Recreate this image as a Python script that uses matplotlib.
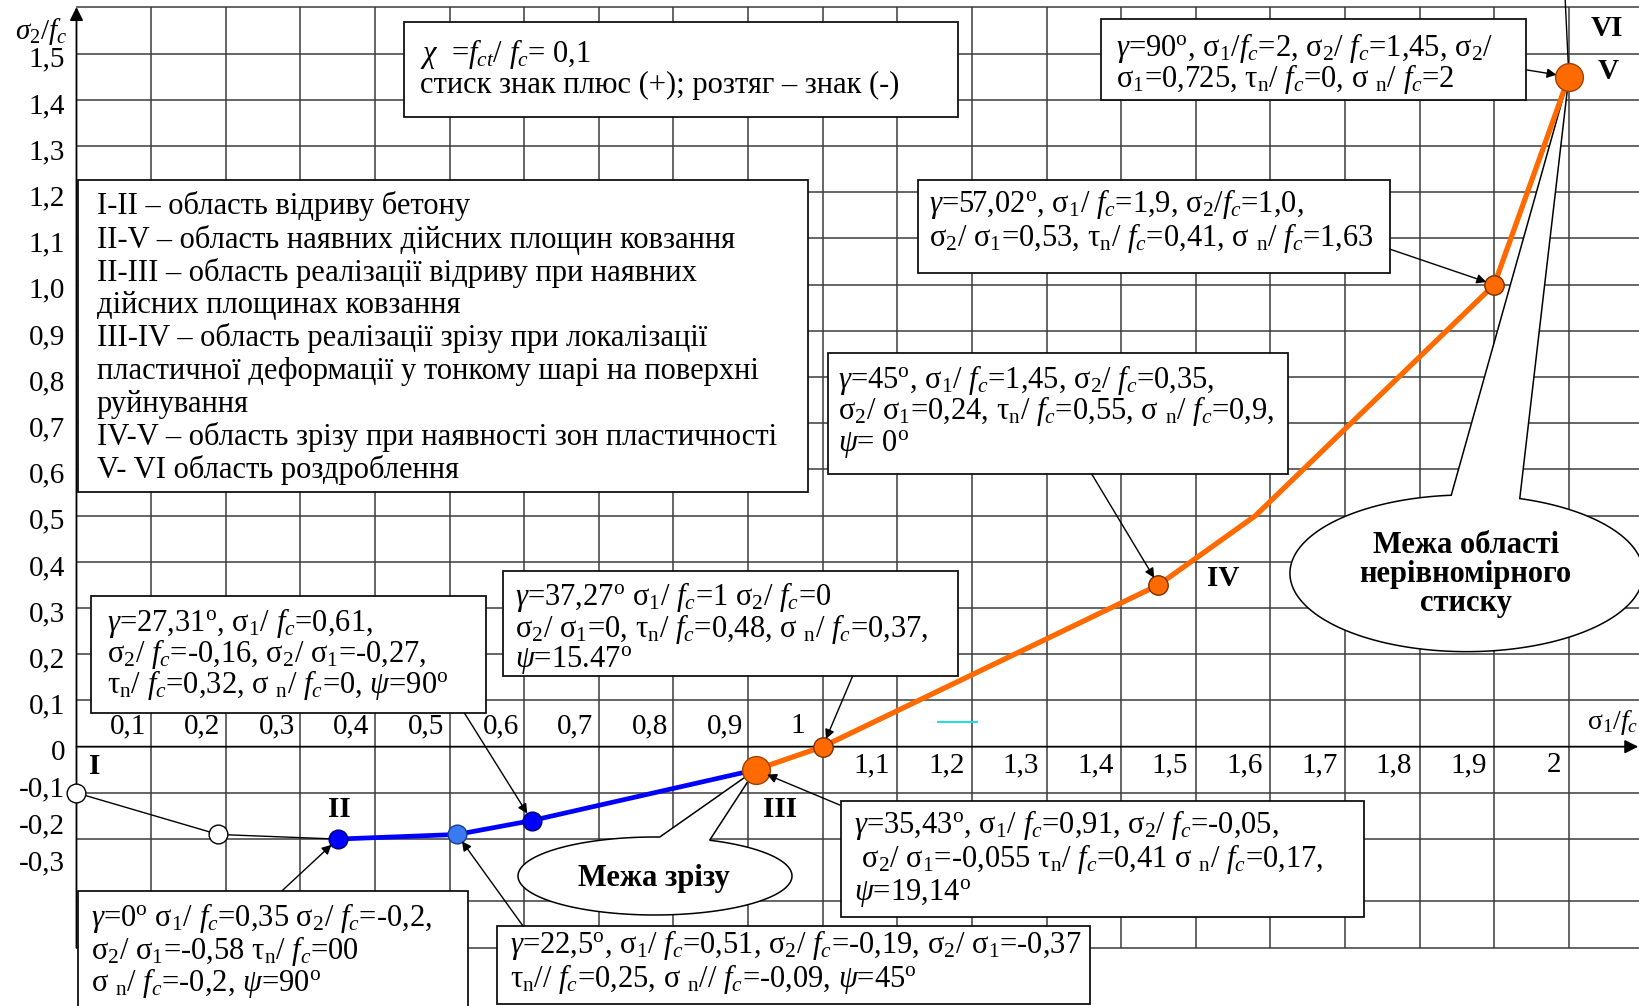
import numpy as np
import matplotlib
matplotlib.use("Agg")
import matplotlib.pyplot as plt
from matplotlib.patches import Rectangle, Polygon

plt.rcParams['font.family'] = ['Liberation Serif', 'DejaVu Serif']
plt.rcParams['mathtext.fontset'] = 'custom'
plt.rcParams['mathtext.rm'] = 'Liberation Serif'
plt.rcParams['mathtext.it'] = 'Liberation Serif:italic'
plt.rcParams['mathtext.bf'] = 'Liberation Serif:bold'

# ---- data: sigma1/fc and sigma2/fc along the failure envelope ----
tension_s1 = [0.0, 0.19, 0.35]          # I -> II (tension cut-off)
tension_s2 = [-0.10, -0.19, -0.20]
shear_s1 = [0.35, 0.51, 0.61, 0.91]     # II -> III
shear_s2 = [-0.20, -0.19, -0.16, -0.05]
compr_s1 = [0.91, 1.00, 1.45, 1.58, 1.90, 2.00]   # III -> V
compr_s2 = [-0.05, 0.00, 0.35, 0.50, 1.00, 1.45]

y_tick_values = [1.5, 1.4, 1.3, 1.2, 1.1, 1.0, 0.9, 0.8, 0.7, 0.6, 0.5, 0.4,
                 0.3, 0.2, 0.1, 0.0, -0.1, -0.2, -0.3]
x_ticks_upper = [0.1, 0.2, 0.3, 0.4, 0.5, 0.6, 0.7, 0.8, 0.9, 1.0]
x_ticks_lower = [1.1, 1.2, 1.3, 1.4, 1.5, 1.6, 1.7, 1.8, 1.9, 2.0]

roman = ["I", "II", "III", "IV", "V", "VI"]

legend_lines = [
    "I-II – область відриву бетону",
    "II-V – область наявних дійсних площин ковзання",
    "II-III – область реалізації відриву при наявних",
    "дійсних площинах ковзання",
    "III-IV – область реалізації зрізу при локалізації",
    "пластичної деформації у тонкому шарі на поверхні",
    "руйнування",
    "IV-V – область зрізу при наявності зон пластичності",
    "V- VI область роздроблення",
]

# ---- text fragments ----
G = r"$\gamma$"
PSI = r"$\psi$"
F = r"$f_c$"
S1 = r"$_1$"
S2 = r"$_2$"
SN = r"$_\mathrm{n}$"
DEG = r"$^\mathrm{o}$"

def fmt(v):
    s = f"{v:.1f}".replace(".", ",")
    return "0" if s in ("0,0", "-0,0") else s

# ---- figure with pixel-aligned data frame ----
fig = plt.figure(figsize=(16.39, 10.06), dpi=100)
ax = fig.add_axes([0, 0, 1, 1])
ax.set_xlim(-0.1025, 2.094)
ax.set_ylim(-0.5613, 1.6162)
ax.set_axis_off()

GRID_C = "#3c3c3c"
TXT = 22
TICK = 21

# grid
grid_y = [1.6, 1.5, 1.4, 1.3, 1.2, 1.1, 1.0, 0.9, 0.8, 0.7, 0.6, 0.5, 0.4,
          0.3, 0.2, 0.1, -0.1, -0.2, -0.335, -0.435]
ax.hlines(grid_y, 0, 2.094, color=GRID_C, lw=1.1, zorder=1)
ax.vlines(x_ticks_upper + x_ticks_lower, -0.435, 1.6, color=GRID_C, lw=1.1, zorder=1)

# axes with arrows
ax.annotate("", xy=(0, 1.601), xytext=(0, -0.435),
            arrowprops=dict(arrowstyle="-|>", color="black", lw=1.3,
                            mutation_scale=20, shrinkA=0, shrinkB=0), zorder=2)
ax.annotate("", xy=(2.093, 0), xytext=(0, 0),
            arrowprops=dict(arrowstyle="-|>", color="black", lw=1.3,
                            mutation_scale=20, shrinkA=0, shrinkB=0), zorder=2)

# tick labels
for v in y_tick_values:
    pos = v - 0.013 if v >= 0 else 0.8 * v - 0.013
    ax.text(-0.0154, pos, fmt(v), ha="right", va="center", fontsize=TICK, zorder=4)
for v in x_ticks_upper:
    lab = "1" if v == 1.0 else fmt(v)
    off = 0.023 if v == 1.0 else 0.007
    ax.text(v - off, 0.044, lab, ha="right", va="center", fontsize=TICK, zorder=4)
for v in x_ticks_lower:
    lab = "2" if v == 2.0 else fmt(v)
    ax.text(v - 0.01, -0.04, lab, ha="right", va="center", fontsize=TICK, zorder=4)

ax.text(-0.0476, 1.5476, r"$\sigma_2/f_c$", ha="center", va="center", fontsize=21, zorder=4)
ax.text(2.024, 0.0513, "σ" + S1 + "/" + F, ha="left", va="center", fontsize=20, zorder=4)

# small cyan stroke
ax.plot([1.1545, 1.2063], [0.0533, 0.0533], color="#19e0e6", lw=1.4, zorder=2)


def text_box(x0, x1, ytop, ybot, tx, lines, ys, size=TXT):
    ax.add_patch(Rectangle((x0, ybot), x1 - x0, ytop - ybot, fc="white",
                           ec="#111111", lw=1.3, zorder=3))
    for line, y in zip(lines, ys):
        ax.text(tx, y, line, ha="left", va="center", fontsize=size, zorder=4)


def py(p):
    return (746.7 - p) / 462.0


# information box
text_box(0.4386, 1.181, 1.569, 1.363, 0.4604,
         [r"$\chi$  =$f_{ct}$/ " + F + "= 0,1",
          "стиск знак плюс (+); розтяг – знак (-)"],
         [py(54), py(85.4)])

# legend of regions
text_box(0.0025, 0.9803, 1.2266, 0.552, 0.0272, legend_lines,
         [py(p) for p in (206.3, 239.7, 272.9, 305.4, 337.8, 371.3, 404.2, 436.8, 470.2)])

# point descriptions
text_box(0.0197, 0.5485, 0.3262, 0.0725, 0.0409,
         [G + "=27,31" + DEG + ", σ" + S1 + "/ " + F + "=0,61,",
          "σ" + S2 + "/ " + F + "=-0,16, σ" + S2 + "/ σ" + S1 + "=-0,27,",
          "τ" + SN + "/ " + F + "=0,32, σ " + SN + "/ " + F + "=0, " + PSI + "=90" + DEG],
         [py(623), py(654), py(685)])

text_box(0.5716, 1.182, 0.3803, 0.1522, 0.5877,
         [G + "=37,27" + DEG + " σ" + S1 + "/ " + F + "=1 σ" + S2 + "/ " + F + "=0",
          "σ" + S2 + "/ σ" + S1 + "=0, τ" + SN + "/ " + F + "=0,48, σ " + SN + "/ " + F + "=0,37,",
          PSI + "=15.47" + DEG],
         [py(597), py(628.6), py(660.3)])

text_box(1.0075, 1.6236, 0.8515, 0.5903, 1.0205,
         [G + "=45" + DEG + ", σ" + S1 + "/ " + F + "=1,45, σ" + S2 + "/ " + F + "=0,35,",
          "σ" + S2 + "/ σ" + S1 + "=0,24, τ" + SN + "/ " + F + "=0,55, σ " + SN + "/ " + F + "=0,9,",
          PSI + "= 0" + DEG],
         [py(380), py(411.3), py(444.1)])

text_box(1.1275, 1.7602, 1.2266, 1.0262, 1.1425,
         [G + "=57,02" + DEG + ", σ" + S1 + "/ " + F + "=1,9, σ" + S2 + "/" + F + "=1,0,",
          "σ" + S2 + "/ σ" + S1 + "=0,53, τ" + SN + "/ " + F + "=0,41, σ " + SN + "/ " + F + "=1,63"],
         [py(204), py(238.3)])

text_box(1.3726, 1.943, 1.5751, 1.3998, 1.3927,
         [G + "=90" + DEG + ", σ" + S1 + "/" + F + "=2, σ" + S2 + "/ " + F + "=1,45, σ" + S2 + "/",
          "σ" + S1 + "=0,725, τ" + SN + "/ " + F + "=0, σ " + SN + "/ " + F + "=2"],
         [py(48), py(79.2)])

text_box(1.0244, 1.7254, -0.1169, -0.3693, 1.042,
         [G + "=35,43" + DEG + ", σ" + S1 + "/ " + F + "=0,91, σ" + S2 + "/ " + F + "=-0,05,",
          " σ" + S2 + "/ σ" + S1 + "=-0,055 τ" + SN + "/ " + F + "=0,41 σ " + SN + "/ " + F + "=0,17,",
          PSI + "=19,14" + DEG],
         [py(824.7), py(859.5), py(892.6)])

text_box(0.0019, 0.5247, -0.3113, -0.62, 0.0201,
         [G + "=0" + DEG + " σ" + S1 + "/ " + F + "=0,35 σ" + S2 + "/ " + F + "=-0,2,",
          "σ" + S2 + "/ σ" + S1 + "=-0,58 τ" + SN + "/ " + F + "=00",
          "σ " + SN + "/ " + F + "=-0,2, " + PSI + "=90" + DEG],
         [py(918), py(950.6), py(983.2)])

text_box(0.5634, 1.3589, -0.3881, -0.556, 0.581,
         [G + "=22,5" + DEG + ", σ" + S1 + "/ " + F + "=0,51, σ" + S2 + "/ " + F + "=-0,19, σ" + S2 + "/ σ" + S1 + "=-0,37",
          "τ" + SN + "// " + F + "=0,25, σ " + SN + "// " + F + "=-0,09, " + PSI + "=45" + DEG],
         [py(945.5), py(979.5)])


# speech-bubble callouts
def callout(cx, cy, w, h, t_left, t_right, tip):
    ts = np.radians(np.linspace(t_left, t_right + 360.0, 240))
    verts = np.column_stack([cx + w / 2 * np.cos(ts), cy + h / 2 * np.sin(ts)])
    verts = np.vstack([verts, tip])
    ax.add_patch(Polygon(verts, closed=True, fc="white", ec="black", lw=1.1, zorder=3))


callout(0.7753, -0.2799, 0.3672, 0.1688, 88, 66.5, (shear_s1[-1], shear_s2[-1]))
ax.text(0.7733, -0.285, "Межа зрізу", ha="center", va="center",
        fontsize=22, fontweight="bold", zorder=4)

callout(1.863, 0.3753, 0.4736, 0.3392, 95, 72.5, (compr_s1[-1], compr_s2[-1]))
ax.text(1.8617, 0.372, "Межа області\nнерівномірного\nстиску", ha="center", va="center",
        fontsize=22, fontweight="bold", linespacing=1.0, zorder=4)

# line from V towards VI
ax.plot([compr_s1[-1], 1.995], [compr_s2[-1], 1.62], color="black", lw=1.0, zorder=5)

# envelope curves
ax.plot(tension_s1, tension_s2, color="black", lw=1.0, zorder=5)
ax.plot(shear_s1, shear_s2, color="#0000ff", lw=3.4, solid_capstyle="round", zorder=6)
ax.plot(compr_s1, compr_s2, color="#ff6a00", lw=3.8, solid_capstyle="round", zorder=6)

# markers
ax.plot(tension_s1[:2], tension_s2[:2], "o", ms=13.5, mfc="white", mec="black", mew=1.0, zorder=7)
ax.plot([shear_s1[0], shear_s1[2]], [shear_s2[0], shear_s2[2]], "o", ms=13.5,
        mfc="#0000ff", mec="#00006e", mew=1.0, zorder=7)
ax.plot([shear_s1[1]], [shear_s2[1]], "o", ms=13.5, mfc="#3a7af0", mec="#1a3c90", mew=1.0, zorder=7)
ax.plot([compr_s1[1], compr_s1[2], compr_s1[4]], [compr_s2[1], compr_s2[2], compr_s2[4]], "o",
        ms=14, mfc="#ff6a00", mec="#7a3000", mew=1.0, zorder=7)
ax.plot([compr_s1[0], compr_s1[-1]], [compr_s2[0], compr_s2[-1]], "o",
        ms=20, mfc="#ff6a00", mec="#a04000", mew=1.0, zorder=7)

# roman numerals
roman_pos = [(0.0244, -0.0433), (0.3525, -0.137), (0.9433, -0.137),
             (1.5369, 0.3645), (2.0528, 1.461), (2.0506, 1.555)]
for lab, (x, y) in zip(roman, roman_pos):
    ax.text(x, y, lab, ha="center", va="center", fontsize=21, fontweight="bold", zorder=8)

# leader arrows from descriptions to points
arrows = [
    ((0.520, 0.0725), (shear_s1[2], shear_s2[2])),
    ((1.040, 0.1522), (compr_s1[1], compr_s2[1])),
    ((1.3605, 0.5903), (compr_s1[2], compr_s2[2])),
    ((1.760, 1.077), (compr_s1[4], compr_s2[4])),
    ((1.943, 1.465), (compr_s1[5], compr_s2[5])),
    ((1.0228, -0.1262), (compr_s1[0], compr_s2[0])),
    ((0.2759, -0.3113), (shear_s1[0], shear_s2[0])),
    ((0.5984, -0.3881), (shear_s1[1], shear_s2[1])),
]
for (start, end), shrink in zip(arrows, [6, 6, 6, 6, 9, 9, 6, 6]):
    ax.annotate("", xy=end, xytext=start,
                arrowprops=dict(arrowstyle="-|>", color="black", lw=1.0,
                                mutation_scale=14, shrinkA=0, shrinkB=shrink), zorder=8)

fig.savefig("out.png", dpi=100, facecolor="white")
